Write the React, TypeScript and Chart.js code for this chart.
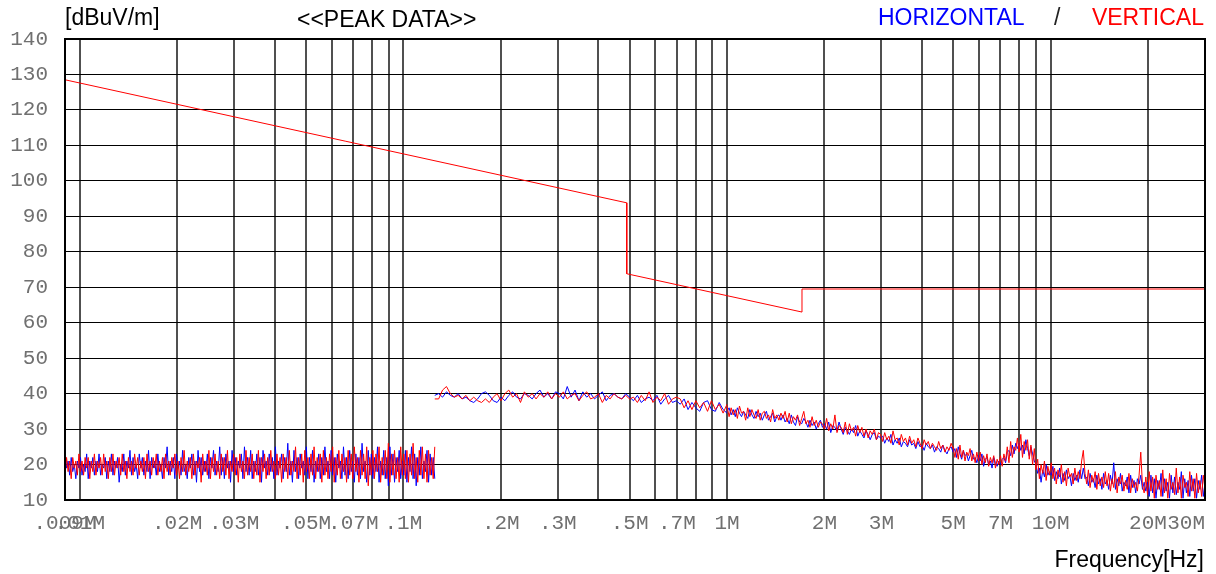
import { useEffect, useRef } from "react";
import { Chart, registerables } from "chart.js";

Chart.register(...registerables);

// ---- axis definition ----
const X_MIN = 0.009;
const X_MAX = 30;
const Y_MIN = 10;
const Y_MAX = 140;
const Y_STEP = 10;

const X_GRID = [
  0.009, 0.01, 0.02, 0.03, 0.04, 0.05, 0.06, 0.07, 0.08, 0.09,
  0.1, 0.2, 0.3, 0.4, 0.5, 0.6, 0.7, 0.8, 0.9,
  1, 2, 3, 4, 5, 6, 7, 8, 9,
  10, 20, 30,
];
const X_GRID_LABELS = [
  ".009M", ".01M", ".02M", ".03M", "", ".05M", "", ".07M", "", "",
  ".1M", ".2M", ".3M", "", ".5M", "", ".7M", "", "",
  "1M", "2M", "3M", "", "5M", "", "7M", "", "",
  "10M", "20M", "30M   ",
];

// ---- limit line (MHz, dBuV/m) ----
const LIMIT_FREQ = [0.009, 0.49, 0.49, 1.705, 1.705, 30];
const LIMIT_DB = [128.5, 93.8, 73.8, 63.0, 69.5, 69.5];

// ---- sweep segments (MHz) ----
const SEG1_START = 0.009;
const SEG1_STOP = 0.125;
const SEG2_START = 0.125;
const SEG2_STOP = 1;
const SEG3_START = 1;
const SEG3_STOP = 5;
const SEG4_START = 5;
const SEG4_STOP = 30;

// vertical polarisation, 9 kHz - 125 kHz
const VERT_SEG1 = [
  17, 22, 18, 21, 16, 22, 19, 21, 17, 23,
  18, 21, 17, 22, 19, 22, 16, 21, 18, 23,
  17, 21, 19, 22, 17, 23, 18, 21, 16, 22,
  18, 23, 17, 21, 19, 22, 17, 23, 18, 21,
  16, 22, 18, 21, 17, 23, 19, 22, 17, 21,
  18, 22, 16, 23, 18, 21, 17, 22, 19, 23,
  17, 21, 18, 22, 16, 23, 18, 21, 17, 22,
  19, 23, 17, 21, 16, 22, 18, 24, 17, 21,
  18, 22, 16, 23, 17, 21, 19, 22, 15, 23,
  18, 21, 17, 24, 16, 22, 18, 23, 17, 21,
  16, 23, 18, 22, 17, 24, 16, 21, 18, 23,
  17, 22, 15, 23, 18, 21, 16, 24, 17, 22,
  18, 23, 16, 21, 17, 24, 15, 22, 18, 23,
  16, 22, 17, 24, 18, 21, 16, 23, 17, 22,
  15, 23, 18, 22, 16, 24, 17, 21, 18, 25,
  16, 22, 17, 23, 15, 24, 18, 22, 16, 23,
  17, 25, 16, 22, 18, 23, 15, 24, 17, 22,
  16, 23, 18, 25, 15, 22, 17, 24, 16, 23,
  18, 22, 15, 24, 17, 23, 16, 25, 18, 22,
  15, 24, 17, 23, 16, 25, 14, 22, 17, 24,
  16, 23, 18, 25, 15, 22, 17, 24, 16, 26,
  15, 23, 17, 24, 16, 22, 15, 25, 17, 23,
  16, 24, 15, 23, 17, 26, 16, 22, 15, 24,
  17, 25, 16, 23, 15, 24, 17, 22, 16, 25,
];

// horizontal polarisation, 9 kHz - 125 kHz
const HORZ_SEG1 = [
  24, 19, 21, 17, 22, 18, 20, 16, 21, 19,
  22, 17, 20, 18, 23, 16, 21, 19, 22, 17,
  21, 18, 23, 17, 20, 19, 22, 16, 21, 18,
  23, 17, 21, 19, 22, 15, 20, 18, 23, 17,
  21, 19, 24, 17, 22, 18, 20, 16, 23, 19,
  22, 17, 21, 18, 24, 16, 22, 19, 21, 17,
  23, 18, 20, 16, 22, 19, 25, 17, 21, 18,
  22, 16, 23, 19, 21, 17, 24, 18, 20, 16,
  22, 19, 23, 17, 21, 15, 24, 18, 22, 17,
  21, 18, 23, 16, 22, 19, 24, 17, 21, 18,
  25, 17, 22, 16, 23, 19, 21, 15, 24, 18,
  22, 17, 21, 19, 23, 16, 25, 18, 22, 17,
  24, 16, 21, 18, 23, 17, 22, 15, 24, 19,
  21, 17, 23, 18, 22, 16, 25, 17, 21, 19,
  23, 16, 22, 18, 26, 17, 21, 15, 24, 18,
  22, 16, 23, 19, 21, 17, 25, 16, 22, 18,
  24, 15, 21, 18, 23, 16, 22, 17, 25, 18,
  21, 16, 24, 17, 22, 15, 23, 19, 21, 16,
  25, 17, 22, 16, 24, 18, 21, 15, 23, 17,
  22, 16, 26, 18, 21, 15, 24, 17, 23, 16,
  22, 18, 25, 15, 21, 17, 24, 16, 22, 14,
  25, 17, 23, 15, 22, 18, 24, 16, 21, 17,
  24, 15, 22, 18, 25, 16, 23, 14, 22, 17,
  25, 16, 21, 18, 24, 15, 23, 17, 22, 16,
];

// vertical polarisation, 125 kHz - 1 MHz
const VERT_SEG2 = [
  38.5, 38.5, 41, 42, 40, 39, 39.5, 38.5, 39.5, 38, 39, 38, 37.5, 38.5, 37.5, 39, 40,
  38, 40, 41, 39, 40, 37.5, 40.5, 39, 40, 38.5, 40, 39, 40.5, 38.5, 40,
  39, 40.5, 38.5, 39.5, 40, 38, 39.5, 40.5, 38.5, 39, 40, 37.5, 39.5, 38.5, 40, 39, 38.5, 39.5,
  38.5, 39, 37.5, 39.5, 38, 40.5, 37.5, 39, 38, 40, 37, 38.5, 39,
  38.5, 36, 38, 35.5, 38, 36, 37.5, 35, 38, 35.5, 37, 34.5, 37,
];

// horizontal polarisation, 125 kHz - 1 MHz
const HORZ_SEG2 = [
  39.5, 40, 39, 40.5, 39.5, 39, 40, 38.5, 39, 38, 37.5, 38.5, 40, 40.5, 39.5, 38, 37.5,
  39, 38, 39.5, 40.5, 39, 38.5, 40, 39.5, 38.5, 40, 41, 39, 40, 38.5, 40.5,
  40, 38.5, 42, 39, 41, 38, 40.5, 39, 40, 38.5, 39.5, 40.5, 38, 39.5, 40, 39, 38.5, 40,
  39, 38, 39.5, 37.5, 38.5, 39, 38, 39.5, 37, 38.5, 39.5, 37.5, 38,
  37, 38.5, 35.5, 37.5, 36, 35, 37.5, 38, 35.5, 35, 37.5, 35.5, 34.5,
];

// vertical polarisation, 1 MHz - 5 MHz
const VERT_SEG3 = [
  36.5, 33.5, 36, 34, 35.5, 33, 36.5, 34.5, 35, 32.5, 36, 33.5, 35.5, 34, 33, 35.5, 32.5, 34.5, 35, 33, 34, 32, 35.5, 33, 34, 32.5, 34.5,
  33, 35, 32, 34.5, 31.5, 33.5, 32.5, 34, 31, 33, 35, 31.5, 32.5, 30.5, 33.5, 31, 32.5, 30.5, 32, 31.5,
  30, 33, 29.5, 31.5, 30, 34, 29, 31, 30.5, 29, 32, 28.5, 31.5, 29.5, 30.5, 28, 31, 29, 30.5, 28, 30, 27.5, 29.5, 28.5, 30, 27, 29,
  28.5, 26.5, 29, 27, 28, 26, 29.5, 27, 27.5, 25.5, 28.5, 26.5, 27.5, 25.5, 28, 26, 27, 25, 27.5, 26,
  24.5, 27, 25.5, 26.5, 24.5, 26, 25, 24, 26.5, 24.5, 25.5, 23.5, 25, 24, 26, 24.5,
];

// horizontal polarisation, 1 MHz - 5 MHz
const HORZ_SEG3 = [
  35, 36, 34, 35.5, 33.5, 36, 34.5, 33.5, 35, 34, 33, 35.5, 34, 33, 35, 33.5, 34.5, 32.5, 34, 35, 32.5, 33.5, 34.5, 32, 33.5, 34, 32.5,
  34, 32, 33, 31.5, 34, 32, 31, 33.5, 32, 31.5, 33, 32, 30.5, 32.5, 31, 32, 30, 31.5, 32.5, 30.5,
  31.5, 30, 32, 29, 31, 30.5, 29.5, 32, 30, 28.5, 30.5, 29.5, 28.5, 30, 29, 31, 28, 29.5, 28.5, 27.5, 29.5, 28.5, 27, 28.5, 29, 27, 28,
  27.5, 28, 26, 27.5, 26.5, 28.5, 25.5, 27, 26, 27.5, 25, 26.5, 26, 25, 27, 25.5, 26, 24.5, 26.5, 25,
  25.5, 24, 26, 25, 24.5, 25.5, 23.5, 25, 24.5, 23.5, 25.5, 24, 23, 24.5, 25, 23.5,
];

// vertical polarisation, 5 MHz - 30 MHz
const VERT_SEG4 = [
  25, 22, 24.5, 21.5, 25.5, 22, 24, 21, 23.5, 22.5, 24.5, 21, 23, 20.5, 23.5,
  21, 23.5, 20, 22.5, 20.5, 23, 19.5, 22, 20.5, 22.5, 19, 21.5, 20,
  22.5, 19.5, 23, 21, 25, 20.5, 26.5, 22, 25, 24, 27.5,
  23.5, 28.5, 22, 26.5, 24, 27, 21.5, 25.5, 20, 24.5,
  18.5, 21.5, 16, 20, 17.5, 21, 15.5, 19.5, 17,
  20.5, 16, 19, 14.5, 18.5, 16.5, 20, 15, 18, 14, 19, 16.5, 17.5, 14.5, 19,
  15.5, 18, 16, 21, 24, 17.5,
  14.5, 18.5, 13.5, 17, 15, 18, 13, 17.5, 14, 16.5, 13.5, 18,
  14, 17.5, 12.5, 16, 13.5, 18, 12, 16.5, 14.5, 17, 12.5, 15.5, 13, 17.5, 12, 16, 13.5, 15, 12.5, 17, 23.5, 14, 12, 16.5,
  11.5, 18, 12.5, 16.5, 10.5, 17, 13, 15.5, 11, 18.5, 12, 16, 10.5, 17.5, 13, 15, 11.5, 19, 12, 16.5,
  10.5, 17, 13.5, 15, 11, 18, 12.5, 16, 10.5, 17.5, 12, 15.5, 11, 17, 13,
];

// horizontal polarisation, 5 MHz - 30 MHz
const HORZ_SEG4 = [
  23.5, 24.5, 22, 25, 23, 21.5, 24, 22.5, 23, 21, 22.5, 24, 21.5, 22, 20.5,
  22.5, 21, 23, 19.5, 21.5, 22, 20, 21, 19, 22, 20.5, 19.5, 21,
  20, 21.5, 22, 20.5, 23.5, 24, 22.5, 25.5, 23, 26, 24.5,
  26, 24, 25.5, 23, 27, 24.5, 22.5, 25, 23, 21,
  20, 17.5, 19, 15, 18.5, 16.5, 20, 17, 18,
  17, 19.5, 15.5, 18, 16, 19, 14.5, 17.5, 15.5, 18.5, 16, 17, 14, 17.5, 15.5,
  17, 15, 18.5, 16, 19, 16,
  16.5, 14, 17.5, 15, 16, 13.5, 17, 14.5, 16, 13, 17.5, 14.5,
  15.5, 13, 17, 14.5, 20.5, 13, 16, 14, 17.5, 12.5, 15, 14, 16.5, 12, 17, 13.5, 15.5, 12, 16, 14.5, 17, 13, 15, 12.5,
  15, 11, 17, 12, 16, 10.5, 15.5, 13, 17.5, 11, 16, 12.5, 15, 10.5, 17, 12, 16.5, 11.5, 15, 13,
  18, 10.5, 16, 12, 15.5, 11, 17, 12.5, 16, 10.5, 15.5, 13, 17, 11, 14.5,
];

const COLOR_VERT = "#ff0000";
const COLOR_HORZ = "#0000ff";

// sweep points of a segment: log-spaced between start and stop
function sweep(start: number, stop: number, values: number[]) {
  const n = values.length;
  const ratio = stop / start;
  return values.map((v, i) => ({ x: start * Math.pow(ratio, i / (n - 1)), y: v }));
}

const headerPlugin = {
  id: "headerTexts",
  afterDraw(chart: any) {
    const ctx = chart.ctx as CanvasRenderingContext2D;
    const area = chart.chartArea;
    ctx.save();
    // frame
    ctx.strokeStyle = "#000";
    ctx.lineWidth = 2;
    ctx.strokeRect(area.left, area.top, area.right - area.left, area.bottom - area.top);
    // texts
    ctx.font = '23px "Liberation Sans", Arial, sans-serif';
    ctx.textBaseline = "alphabetic";
    ctx.textAlign = "left";
    ctx.fillStyle = "#000";
    ctx.fillText("[dBuV/m]", 65, 25);
    ctx.fillText("<<PEAK DATA>>", 297, 27);
    ctx.fillStyle = COLOR_HORZ;
    ctx.fillText("HORIZONTAL", 878, 25);
    ctx.fillStyle = "#222";
    ctx.fillText("/", 1054, 25);
    ctx.fillStyle = COLOR_VERT;
    ctx.textAlign = "right";
    ctx.fillText("VERTICAL", 1204, 25);
    ctx.fillStyle = "#000";
    ctx.fillText("Frequency[Hz]", 1204, 567);
    ctx.restore();
  },
};

function seriesSet(label: string, color: string, start: number, stop: number, values: number[]) {
  return { label, data: sweep(start, stop, values), borderColor: color, borderWidth: 1 };
}

export default function App() {
  const ref = useRef<HTMLCanvasElement | null>(null);

  useEffect(() => {
    document.body.style.margin = "0";
    const canvas = ref.current;
    if (!canvas) return;
    const monoFont = { family: '"Liberation Mono", "Courier New", monospace', size: 21 };
    const chart = new Chart(canvas, {
      type: "line",
      data: {
        datasets: [
          {
            label: "Limit",
            data: LIMIT_FREQ.map((f, i) => ({ x: f, y: LIMIT_DB[i] })),
            borderColor: COLOR_VERT,
            borderWidth: 1,
          },
          seriesSet("V1", COLOR_VERT, SEG1_START, SEG1_STOP, VERT_SEG1),
          seriesSet("V2", COLOR_VERT, SEG2_START, SEG2_STOP, VERT_SEG2),
          seriesSet("V3", COLOR_VERT, SEG3_START, SEG3_STOP, VERT_SEG3),
          seriesSet("V4", COLOR_VERT, SEG4_START, SEG4_STOP, VERT_SEG4),
          seriesSet("H1", COLOR_HORZ, SEG1_START, SEG1_STOP, HORZ_SEG1),
          seriesSet("H2", COLOR_HORZ, SEG2_START, SEG2_STOP, HORZ_SEG2),
          seriesSet("H3", COLOR_HORZ, SEG3_START, SEG3_STOP, HORZ_SEG3),
          seriesSet("H4", COLOR_HORZ, SEG4_START, SEG4_STOP, HORZ_SEG4),
        ],
      },
      options: {
        animation: false,
        responsive: false,
        maintainAspectRatio: false,
        layout: { padding: { top: 39, right: 11, left: 0, bottom: 0 } },
        plugins: { legend: { display: false }, tooltip: { enabled: false } },
        elements: { point: { radius: 0 }, line: { tension: 0, fill: false } },
        scales: {
          x: {
            type: "logarithmic",
            min: X_MIN,
            max: X_MAX,
            afterBuildTicks: (s: any) => {
              s.ticks = X_GRID.map((v) => ({ value: v }));
            },
            afterFit: (s: any) => {
              s.height = 74;
              s.paddingLeft = 0;
              s.paddingRight = 0;
            },
            grid: { color: "#505050", lineWidth: 2, drawTicks: false },
            border: { display: false },
            ticks: {
              autoSkip: false,
              maxRotation: 0,
              minRotation: 0,
              padding: 11,
              color: "#707070",
              font: monoFont,
              callback: (_v: any, i: number) => X_GRID_LABELS[i] ?? "",
            },
          },
          y: {
            min: Y_MIN,
            max: Y_MAX,
            afterFit: (s: any) => {
              s.width = 65;
              s.paddingTop = 0;
              s.paddingBottom = 0;
            },
            grid: { color: "#000", lineWidth: 1, drawTicks: false },
            border: { display: false },
            ticks: { stepSize: Y_STEP, padding: 17, color: "#707070", font: monoFont },
          },
        },
      },
      plugins: [headerPlugin],
    } as any);
    return () => chart.destroy();
  }, []);

  return (
    <div style={{ width: 1216, height: 574 }}>
      <canvas ref={ref} width={1216} height={574} style={{ display: "block" }} />
    </div>
  );
}
